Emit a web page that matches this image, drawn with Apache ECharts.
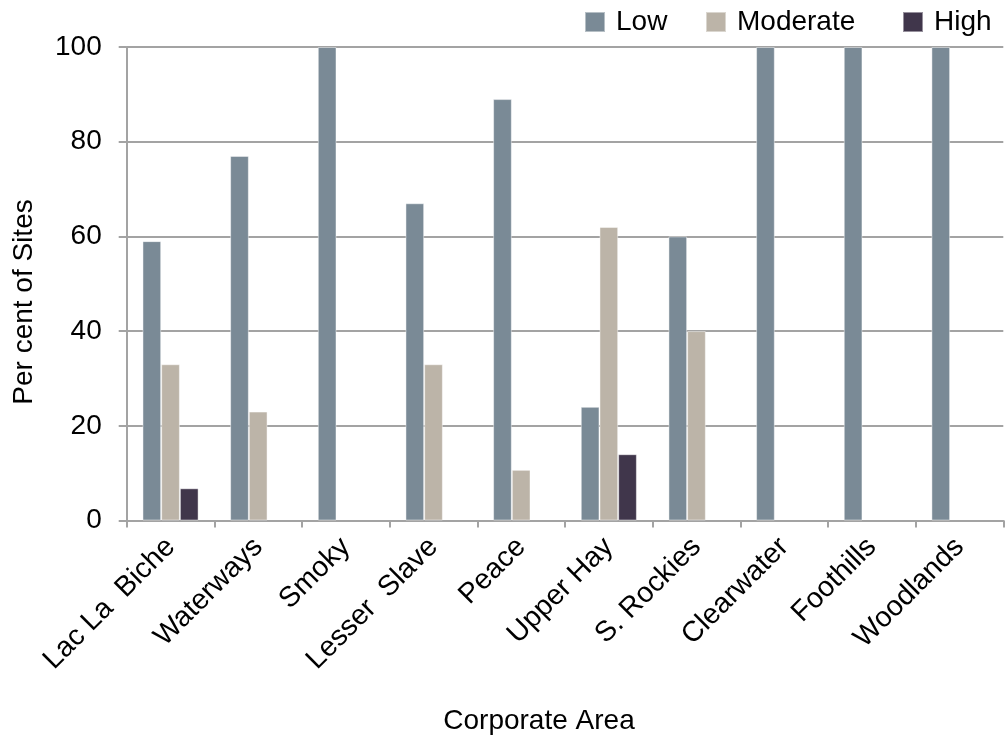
<!DOCTYPE html>
<html>
<head>
<meta charset="utf-8">
<script src="https://cdn.jsdelivr.net/npm/echarts@6/dist/echarts.min.js"></script>
<style>
  html, body { margin: 0; padding: 0; background: #ffffff; }
  #chart { width: 1008px; height: 740px; }
</style>
</head>
<body>
<div id="chart"></div>
<script>
// Corporate areas along the x axis
const categories = ['Lac La  Biche', 'Waterways', 'Smoky', 'Lesser  Slave', 'Peace',
  'Upper Hay', 'S. Rockies', 'Clearwater', 'Foothills', 'Woodlands'];

// Per cent of sites in each risk class
const lowValues      = [59, 77, 100, 67, 89, 24, 60, 100, 100, 100];
const moderateValues = [33, 23, null, 33, 10.7, 62, 40, null, null, null];
const highValues     = [6.8, null, null, null, null, 14, null, null, null, null];

const yTicks = { min: 0, max: 100, interval: 20 };

const FONT = 'Liberation Sans, Arial, sans-serif';
const AXIS_GREY = '#a3a3a3';

const chart = echarts.init(document.getElementById('chart'));

function legendAt(name, left) {
  return {
    data: [name],
    left: left,
    top: 8,
    padding: 0,
    itemWidth: 20,
    itemHeight: 20,
    icon: 'rect',
    textStyle: { fontFamily: FONT, fontSize: 28, color: '#000', padding: [0, 0, 0, 6] }
  };
}

chart.setOption({
  animation: false,
  backgroundColor: '#ffffff',
  legend: [legendAt('Low', 584), legendAt('Moderate', 705), legendAt('High', 902)],
  grid: { left: 126.7, right: 4.7, top: 47, bottom: 219.5, containLabel: false },
  xAxis: {
    type: 'category',
    data: categories,
    boundaryGap: true,
    axisLine: { lineStyle: { color: AXIS_GREY, width: 2 } },
    axisTick: { show: true, length: 7, lineStyle: { color: AXIS_GREY, width: 2 } },
    axisLabel: {
      interval: 0,
      rotate: 45,
      margin: 22,
      fontFamily: FONT,
      fontSize: 28.5,
      color: '#000'
    }
  },
  yAxis: {
    type: 'value',
    min: yTicks.min,
    max: yTicks.max,
    interval: yTicks.interval,
    axisLine: { show: true, lineStyle: { color: AXIS_GREY, width: 2 } },
    axisTick: { show: true, length: 8, lineStyle: { color: AXIS_GREY, width: 2 } },
    splitLine: { show: true, lineStyle: { color: AXIS_GREY, width: 2 } },
    axisLabel: { margin: 25, fontFamily: FONT, fontSize: 28, color: '#000' }
  },
  series: [
    {
      name: 'Low', type: 'bar', data: lowValues,
      barGap: '0%', barCategoryGap: '36%',
      itemStyle: { color: '#7a8a96', borderColor: 'rgba(255,255,255,0.45)', borderWidth: 1 }
    },
    {
      name: 'Moderate', type: 'bar', data: moderateValues,
      itemStyle: { color: '#bcb4a8', borderColor: 'rgba(255,255,255,0.45)', borderWidth: 1 }
    },
    {
      name: 'High', type: 'bar', data: highValues,
      itemStyle: { color: '#40364b', borderColor: 'rgba(255,255,255,0.45)', borderWidth: 1 }
    }
  ],
  graphic: [
    {
      type: 'text',
      x: 24, y: 302, rotation: Math.PI / 2,
      style: {
        text: 'Per cent of Sites', fontFamily: FONT, fontSize: 28, fill: '#000',
        align: 'center', verticalAlign: 'middle'
      }
    },
    {
      type: 'text',
      x: 539, y: 721,
      style: {
        text: 'Corporate Area', fontFamily: FONT, fontSize: 28, fill: '#000',
        align: 'center', verticalAlign: 'middle'
      }
    }
  ]
});
</script>
</body>
</html>
